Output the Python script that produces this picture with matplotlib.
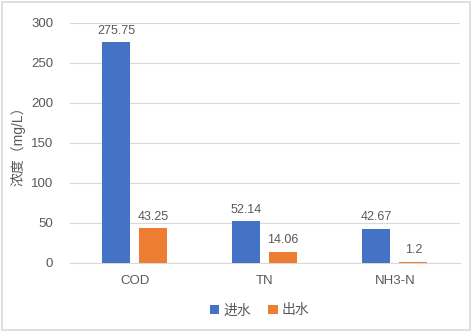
import numpy as np
import matplotlib.pyplot as plt

plt.rcParams['font.family'] = ['Liberation Sans', 'Noto Sans CJK SC']

categories = ['COD', 'TN', 'NH3-N']
inflow = [275.75, 52.14, 42.67]
outflow = [43.25, 14.06, 1.2]
inflow_labels = ['275.75', '52.14', '42.67']
outflow_labels = ['43.25', '14.06', '1.2']

blue = '#4472C4'
orange = '#ED7D31'
gray = '#595959'

fig = plt.figure(figsize=(4.72, 3.32), dpi=100)
ax = fig.add_axes([0.148, 0.208, 0.827, 0.723])

x = np.arange(len(categories))
w = 0.215
b1 = ax.bar(x - 0.145, inflow, w, color=blue, label='进水', zorder=3)
b2 = ax.bar(x + 0.14, outflow, w, color=orange, label='出水', zorder=3)

for rect, lab in zip(b1, inflow_labels):
    ax.text(rect.get_x() + rect.get_width() / 2, rect.get_height() + 7, lab,
            ha='center', va='bottom', fontsize=9, color=gray)
for rect, lab in zip(b2, outflow_labels):
    ax.text(rect.get_x() + rect.get_width() / 2, rect.get_height() + 7, lab,
            ha='center', va='bottom', fontsize=9, color=gray)

ax.set_xlim(-0.5, 2.5)
ax.set_ylim(0, 300)
ax.set_yticks(range(0, 301, 50))
ax.set_xticks(x)
ax.set_xticklabels(categories)
ax.tick_params(axis='both', length=0, labelsize=9.5, colors=gray)
ax.tick_params(axis='x', pad=9)
ax.tick_params(axis='y', pad=12)
ax.grid(axis='y', color='#D9D9D9', linewidth=0.8, zorder=0)
for s in ['top', 'right', 'left']:
    ax.spines[s].set_visible(False)
ax.spines['bottom'].set_color('#D9D9D9')

ax.set_ylabel('浓度（mg/L）', fontsize=10, color=gray, labelpad=4)

fig.legend(loc='center', bbox_to_anchor=(0.55, 0.065), ncol=2, frameon=False,
           fontsize=10, handlelength=0.7, handleheight=0.7, columnspacing=1.2,
           handletextpad=0.3, labelcolor=gray)

border = plt.Rectangle((0.004, 0.006), 0.992, 0.988, transform=fig.transFigure,
                       fill=False, edgecolor='#D9D9D9', linewidth=1.2)
fig.patches.append(border)

fig.savefig('out.png', dpi=100)
